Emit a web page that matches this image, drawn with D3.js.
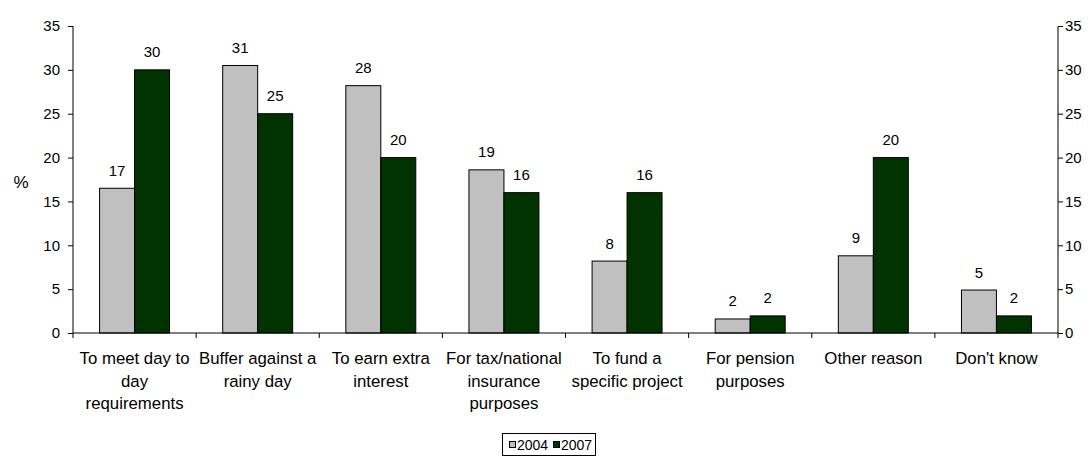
<!DOCTYPE html>
<html>
<head>
<meta charset="utf-8">
<script src="https://cdn.jsdelivr.net/npm/d3@7"></script>
<style>
  html, body { margin: 0; padding: 0; background: #fff; }
  svg { display: block; font-family: "Liberation Sans", Arial, sans-serif; }
</style>
</head>
<body>
<svg id="chart" width="1091" height="457"></svg>
<script>
// Reasons for saving, share of respondents (%)
const categories = [
  ["To meet day to", "day", "requirements"],
  ["Buffer against a", "rainy day"],
  ["To earn extra", "interest"],
  ["For tax/national", "insurance", "purposes"],
  ["To fund a", "specific project"],
  ["For pension", "purposes"],
  ["Other reason"],
  ["Don't know"]
];
const seriesNames = ["2004", "2007"];
const values2004 = [16.5, 30.5, 28.2, 18.6, 8.2, 1.6, 8.8, 4.9];
const values2007 = [30, 25, 20, 16, 16, 1.95, 20, 1.95];
const yTicks = [0, 5, 10, 15, 20, 25, 30, 35];
const colors = ["#c0c0c0", "#003300"];

const svg = d3.select("#chart");
const plotLeft = 73, plotRight = 1058, plotTop = 26, plotBottom = 333;

const x = d3.scaleBand().domain(d3.range(categories.length)).range([plotLeft, plotRight]);
const inner = d3.scaleBand().domain([0, 1]).range([0, x.bandwidth()]).paddingOuter(0.76);
const y = d3.scaleLinear().domain([0, 35]).range([plotBottom, plotTop]);

const series = [values2004, values2007];

// bars with value labels
series.forEach((vals, s) => {
  svg.append("g").selectAll("rect").data(vals).join("rect")
    .attr("x", (d, i) => x(i) + inner(s))
    .attr("y", d => y(d))
    .attr("width", inner.bandwidth())
    .attr("height", d => y(0) - y(d))
    .attr("fill", colors[s])
    .attr("stroke", "#000")
    .attr("stroke-width", 1);

  svg.append("g").selectAll("text").data(vals).join("text")
    .attr("x", (d, i) => x(i) + inner(s) + inner.bandwidth() / 2)
    .attr("y", d => y(d) - 12.5)
    .attr("text-anchor", "middle")
    .attr("font-size", 15)
    .attr("fill", "#000")
    .text(d => Math.round(d));
});

// value axes on both sides
const leftAxis = d3.axisLeft(y).tickValues(yTicks).tickSize(5).tickPadding(8);
const rightAxis = d3.axisRight(y).tickValues(yTicks).tickSize(5).tickPadding(2);

function styleAxis(g) {
  g.selectAll("path, line").attr("stroke", "#000");
  g.selectAll("text").attr("font-size", 15).attr("fill", "#000")
    .attr("font-family", "Liberation Sans, Arial, sans-serif");
}
svg.append("g").attr("transform", `translate(${plotLeft},0)`).call(leftAxis)
  .call(g => g.select(".domain").attr("d", `M0,${plotTop}V${plotBottom}`)).call(styleAxis);
svg.append("g").attr("transform", `translate(${plotRight},0)`).call(rightAxis)
  .call(g => g.select(".domain").attr("d", `M0,${plotTop}V${plotBottom}`)).call(styleAxis);

// category axis
const xg = svg.append("g");
xg.append("line").attr("x1", plotLeft).attr("x2", plotRight)
  .attr("y1", plotBottom).attr("y2", plotBottom).attr("stroke", "#000");
xg.selectAll("line.tick").data(d3.range(categories.length + 1)).join("line")
  .attr("class", "tick")
  .attr("x1", i => i < categories.length ? x(i) : plotRight)
  .attr("x2", i => i < categories.length ? x(i) : plotRight)
  .attr("y1", plotBottom).attr("y2", plotBottom + 5)
  .attr("stroke", "#000");
xg.selectAll("text").data(categories).join("text")
  .attr("text-anchor", "middle")
  .attr("font-size", 16.8)
  .attr("fill", "#000")
  .each(function(lines, i) {
    d3.select(this).selectAll("tspan").data(lines).join("tspan")
      .attr("x", x(i) + x.bandwidth() / 2)
      .attr("y", (d, j) => 364 + j * 22.5)
      .text(d => d);
  });

// value axis title
svg.append("text").attr("x", 21).attr("y", 188).attr("text-anchor", "middle")
  .attr("font-size", 17).attr("fill", "#000").text("%");

// legend
const lg = svg.append("g");
lg.append("rect").attr("x", 502.5).attr("y", 433.5).attr("width", 93).attr("height", 22)
  .attr("fill", "#fff").attr("stroke", "#000");
const legendX = [509, 553];
seriesNames.forEach((name, s) => {
  lg.append("rect").attr("x", legendX[s] + 0.5).attr("y", 441.5).attr("width", 6).attr("height", 6)
    .attr("fill", colors[s]).attr("stroke", "#000");
  lg.append("text").attr("x", legendX[s] + 8).attr("y", 450)
    .attr("font-size", 14).attr("fill", "#000").text(name);
});
</script>
</body>
</html>
